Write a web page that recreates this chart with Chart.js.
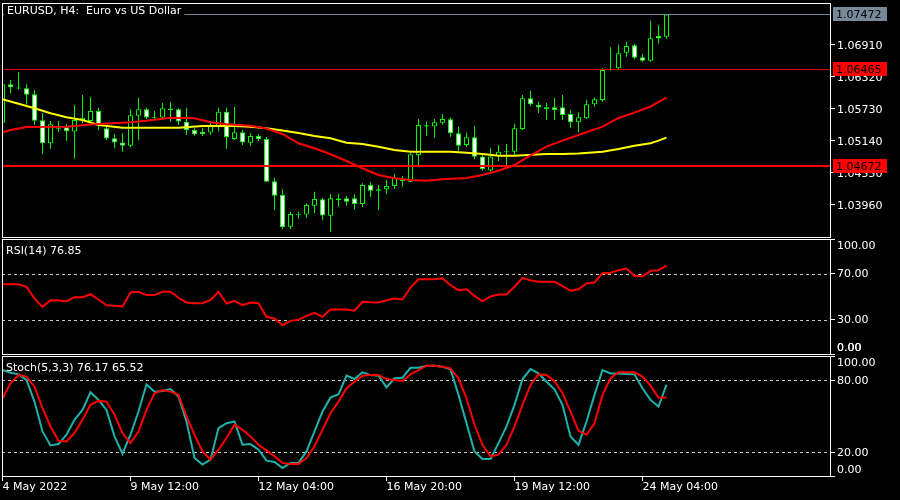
<!DOCTYPE html>
<html>
<head>
<meta charset="utf-8">
<script src="https://cdn.jsdelivr.net/npm/chart.js@4/dist/chart.umd.min.js"></script>
<style>
  html, body { margin: 0; padding: 0; background: #000; }
  #wrap { position: relative; width: 900px; height: 500px; overflow: hidden; }
  #wrap canvas { position: absolute; left: 0; top: 0; }
</style>
</head>
<body>
<div id="wrap">
  <canvas id="priceChart" width="900" height="500"></canvas>
  <canvas id="rsiChart" width="900" height="500"></canvas>
  <canvas id="stochChart" width="900" height="500"></canvas>
</div>
<script>
//DATA - EURUSD H4, bar 0 = 4 May 20:00
const barOpen = [1.05477,1.06185,1.06108,1.06112,1.06001,1.05522,1.05098,1.05367,1.05393,1.05315,
  1.05527,1.05509,1.05693,1.05374,1.05190,1.05112,1.05053,1.05606,1.05724,1.05559,
  1.05573,1.05712,1.05724,1.05496,1.05343,1.05311,1.05297,1.05398,1.05680,1.05177,
  1.05300,1.05109,1.05232,1.05177,1.04397,1.04144,1.03560,1.03776,1.03785,1.03947,
  1.04065,1.03763,1.04052,1.04084,1.04084,1.03978,1.04329,1.04224,1.04249,1.04310,
  1.04421,1.04390,1.04882,1.05407,1.05407,1.05477,1.05540,1.05282,1.05066,1.05208,
  1.04854,1.04596,1.04863,1.04937,1.04943,1.05361,1.05927,1.05804,1.05761,1.05761,
  1.05761,1.05638,1.05485,1.05559,1.05817,1.05896,1.06458,1.06480,1.06768,1.06904,
  1.06683,1.06621,1.07076,1.07063];
const barHigh = [1.06209,1.06265,1.06412,1.06182,1.06080,1.05651,1.05509,1.05509,1.05448,1.05804,
  1.05988,1.05951,1.05754,1.05435,1.05269,1.05282,1.05724,1.05933,1.05754,1.05693,
  1.05841,1.05859,1.05743,1.05748,1.05374,1.05374,1.05509,1.05754,1.05754,1.05767,
  1.05343,1.05282,1.05269,1.05219,1.04458,1.04249,1.03836,1.03836,1.03988,1.04205,
  1.04089,1.04163,1.04163,1.04126,1.04158,1.04360,1.04379,1.04329,1.04421,1.04532,
  1.04495,1.04913,1.05546,1.05496,1.05546,1.05638,1.05573,1.05404,1.05288,1.05417,
  1.04900,1.05005,1.05066,1.05085,1.05453,1.05988,1.06067,1.05865,1.05841,1.05927,
  1.05988,1.05712,1.05669,1.05896,1.05946,1.06480,1.06868,1.06910,1.06971,1.06928,
  1.06744,1.07353,1.07279,1.07476];
const barLow = [1.05472,1.06019,1.06093,1.05813,1.05435,1.04900,1.04998,1.05311,1.05146,1.04817,
  1.05466,1.05466,1.05343,1.05158,1.05011,1.04943,1.05024,1.05158,1.05540,1.05527,
  1.05527,1.05496,1.05435,1.05251,1.05241,1.05232,1.05251,1.05324,1.04998,1.05158,
  1.05066,1.05048,1.05140,1.04384,1.03868,1.03512,1.03518,1.03711,1.03726,1.03813,
  1.03683,1.03468,1.03929,1.03947,1.03877,1.03923,1.04113,1.03868,1.04163,1.04255,
  1.04297,1.04384,1.04679,1.05232,1.05201,1.05444,1.05219,1.04961,1.05029,1.04803,
  1.04592,1.04574,1.04771,1.04633,1.04882,1.05343,1.05785,1.05656,1.05527,1.05527,
  1.05527,1.05385,1.05300,1.05546,1.05772,1.05865,1.06436,1.06449,1.06694,1.06652,
  1.06602,1.06602,1.06941,1.07026];
const barClose = [1.06185,1.06130,1.06126,1.05994,1.05514,1.05098,1.05448,1.05385,1.05319,1.05527,
  1.05570,1.05693,1.05444,1.05186,1.05112,1.05053,1.05614,1.05724,1.05573,1.05577,
  1.05743,1.05739,1.05500,1.05343,1.05260,1.05264,1.05417,1.05680,1.05208,1.05300,
  1.05112,1.05232,1.05171,1.04390,1.04131,1.03554,1.03794,1.03789,1.03960,1.04071,
  1.03766,1.04084,1.04080,1.04021,1.03978,1.04329,1.04224,1.04249,1.04310,1.04463,
  1.04403,1.04895,1.05435,1.05429,1.05485,1.05546,1.05282,1.05053,1.05208,1.04851,
  1.04618,1.04854,1.04943,1.04950,1.05374,1.05927,1.05817,1.05758,1.05724,1.05712,
  1.05619,1.05485,1.05577,1.05817,1.05909,1.06449,1.06468,1.06757,1.06892,1.06676,
  1.06621,1.07034,1.07030,1.07472];

// moving averages, read at these bars
const maFastBars = [0,1,3,8,11,16,18,21,24,26,28,31,33,35,37,39,41,43,45,47,49,51,53,55,58,60,62,64,66,68,70,72,75,77,79,81,83];
const maFastVals = [1.05297,1.05343,1.05398,1.05404,1.05444,1.05485,1.05514,1.05570,1.05559,1.05485,1.05448,1.05422,1.05370,1.05269,1.05098,1.05005,1.04895,1.04771,1.04637,1.04513,1.04453,1.04421,1.04408,1.04434,1.04458,1.04513,1.04592,1.04697,1.04873,1.05035,1.05146,1.05251,1.05404,1.05564,1.05662,1.05776,1.05938];
const maSlowBars = [0,4,6,8,10,12,15,18,22,25,29,31,33,35,37,39,41,43,45,47,49,51,56,58,60,62,64,68,70,72,75,77,79,81,82,83];
const maSlowVals = [1.05909,1.05743,1.05651,1.05577,1.05527,1.05435,1.05385,1.05385,1.05385,1.05417,1.05417,1.05404,1.05374,1.05334,1.05288,1.05232,1.05190,1.05109,1.05085,1.05035,1.04974,1.04943,1.04943,1.04924,1.04900,1.04869,1.04869,1.04900,1.04900,1.04910,1.04943,1.04993,1.05053,1.05098,1.05146,1.05201];

const rsiValues = [60.7,60.7,60.7,58.4,48.3,41.0,46.8,46.5,45.9,49.4,
  49.4,52.0,47.4,42.4,41.9,41.3,53.5,54.1,51.2,51.2,
  54.1,54.1,48.9,44.8,44.2,44.2,47.1,54.1,43.9,46.2,
  42.4,44.8,44.2,32.3,30.9,25.0,28.8,29.7,33.2,35.8,
  32.3,38.7,38.7,38.7,37.6,45.4,45.0,44.8,46.8,48.3,
  47.4,57.8,65.0,65.0,65.0,65.9,59.8,55.5,56.3,50.5,
  45.9,50.0,51.7,51.7,58.5,66.2,64.0,62.8,62.8,62.8,
  59.0,55.0,56.3,61.3,62.2,70.3,70.6,72.9,74.3,68.0,
  67.4,72.3,72.9,76.85];

const stochMain = [88.3,86.0,84.7,80.0,62.0,37.1,25.5,26.6,34.4,46.8,
  55.1,69.8,63.4,55.1,33.0,18.6,34.4,53.7,76.4,70.3,
  70.9,72.5,66.2,45.4,15.0,9.5,13.6,39.9,44.0,45.4,
  26.0,26.6,21.9,12.8,11.7,6.7,10.9,10.9,20.5,37.1,
  53.7,65.3,68.1,83.6,80.8,86.4,84.1,83.6,73.9,81.4,
  81.9,90.2,90.2,91.9,91.9,91.0,89.0,67.6,44.0,20.5,
  14.2,14.2,27.4,41.3,59.3,80.8,89.1,85.5,78.6,72.3,
  59.3,33.0,26.0,45.4,67.6,88.3,85.5,85.5,85.0,84.7,
  73.1,63.4,57.9,76.17];
const stochSignal = [64.8,77.2,84.1,82.8,74.4,56.5,41.3,29.4,28.8,35.8,
  46.8,59.3,62.6,62.0,51.0,35.8,27.4,37.1,55.1,69.0,
  71.7,70.3,67.6,49.6,34.4,20.5,13.6,21.9,31.6,42.7,
  38.5,33.0,26.0,21.3,16.4,10.9,10.0,10.0,15.0,24.7,
  38.5,52.3,62.0,73.1,78.6,83.6,84.1,84.1,80.8,80.0,
  79.2,84.7,88.3,91.9,91.9,91.0,89.7,81.4,64.8,42.7,
  26.0,16.4,17.8,26.0,41.3,59.3,75.9,84.7,84.1,79.2,
  69.0,53.7,37.7,34.4,44.0,67.6,81.4,86.4,86.4,86.4,
  82.8,75.3,65.3,65.52];

const priceTicks = [1.03960, 1.04550, 1.05140, 1.05730, 1.06320, 1.06910];
const rsiTicks = [0, 30, 70, 100];
const stochTicks = [0, 20, 80, 100];
const timeTickBars = [0, 16, 32, 48, 64, 80];
const timeTickLabels = ["4 May 2022", "9 May 12:00", "12 May 04:00", "16 May 20:00", "19 May 12:00", "24 May 04:00"];
const bidPrice = 1.07472;
const priceLevels = [1.06465, 1.04672];

//STYLE
const GREEN = "#00ff00";
const AXIS_W = 70;
const levelStyles = [{ color: "#e00000", width: 1 }, { color: "#ff0000", width: 2 }];

Chart.defaults.font.family = "'DejaVu Sans', sans-serif";
Chart.defaults.font.size = 11;
Chart.defaults.color = "#ffffff";

let rsiChart = null; // the stochastic panel also writes the RSI bottom label

// x axis shared by all panels
function timeAxis(show) {
  return {
    type: "linear",
    min: -0.0625,
    max: 103.4375,
    offset: false,
    display: show,
    afterBuildTicks: (s) => { s.ticks = timeTickBars.map((v) => ({ value: v })); },
    afterFit: (s) => {
      s.height = show ? 24 : 0;
      s.paddingLeft = 0;
      s.paddingRight = 0;
    },
    grid: { drawOnChartArea: false, drawTicks: true, tickLength: 5, color: "#fff", offset: false },
    border: { display: false },
    ticks: {
      autoSkip: false, maxRotation: 0, minRotation: 0, align: "start", padding: 0, color: "#fff",
      callback: (v) => timeTickLabels[timeTickBars.indexOf(v)],
    },
  };
}

// y axis on the right
function valueAxis(min, max, tickVals, fmt) {
  return {
    position: "right",
    min: min,
    max: max,
    afterBuildTicks: (s) => { s.ticks = tickVals.map((v) => ({ value: v })); },
    afterFit: (s) => { s.width = AXIS_W; s.paddingTop = 0; s.paddingBottom = 0; },
    grid: { drawOnChartArea: false, drawTicks: true, tickLength: 5, color: "#fff" },
    border: { display: false },
    ticks: { autoSkip: false, padding: 2, labelOffset: 1, color: "#fff", callback: fmt },
  };
}

// 0 and 100 are drawn by the frame plugin, pushed inside the panel
function pctLabel(v) {
  if (v === 100 || v === 0) return "";
  return v.toFixed(2);
}

//frame, caption, dashed levels and edge labels
const framePlugin = {
  id: "frame",
  beforeDatasetsDraw(chart, args, opts) {
    const { ctx, chartArea: a, scales } = chart;
    ctx.save();
    ctx.strokeStyle = "#c8c8c8";
    ctx.lineWidth = 1;
    ctx.setLineDash([3, 3]);
    (opts.levels || []).forEach((v) => {
      const py = Math.round(scales.y.getPixelForValue(v)) + 0.5;
      ctx.beginPath();
      ctx.moveTo(a.left, py);
      ctx.lineTo(a.right, py);
      ctx.stroke();
    });
    ctx.restore();
  },
  afterDraw(chart, args, opts) {
    const { ctx, chartArea: a, scales: { y } } = chart;
    ctx.save();
    ctx.strokeStyle = "#fff";
    ctx.lineWidth = 1;
    ctx.strokeRect(a.left + 0.5, a.top + 0.5, a.right - a.left, a.bottom - a.top);
    ctx.font = "11px 'DejaVu Sans'";
    ctx.textBaseline = "middle";
    if (opts.captionBg) {
      const w = ctx.measureText(opts.caption).width;
      ctx.fillStyle = "#000";
      ctx.fillRect(a.left + 2, a.top + 1, w + 6, 14);
    }
    ctx.fillStyle = "#fff";
    ctx.fillText(opts.caption, a.left + opts.captionDx, a.top + opts.captionDy);
    if (opts.edgeLabels) {
      ctx.fillText("100.00", y.left + 7, y.getPixelForValue(100) + 7.5);
      ctx.fillText("0.00", y.left + 7, y.getPixelForValue(0) - 6);
    }
    // bottom label of the RSI panel, written on the top-most canvas
    if (opts.rsiBottom && rsiChart) {
      const ry = rsiChart.scales.y;
      ctx.fillText("0.00", ry.left + 7, ry.getPixelForValue(0) - 6);
    }
    ctx.restore();
  },
};

//bid line, horizontal levels and their price tags
const priceLinesPlugin = {
  id: "priceLines",
  afterDatasetsDraw(chart) {
    const { ctx, chartArea: a, scales: { y } } = chart;
    ctx.save();
    let py = Math.round(y.getPixelForValue(bidPrice)) + 0.5;
    ctx.strokeStyle = "#778899";
    ctx.lineWidth = 1;
    ctx.beginPath(); ctx.moveTo(a.left, py); ctx.lineTo(a.right, py); ctx.stroke();
    priceLevels.forEach((v, i) => {
      const st = levelStyles[i];
      py = Math.round(y.getPixelForValue(v)) + (st.width === 1 ? 0.5 : 0);
      ctx.strokeStyle = st.color;
      ctx.lineWidth = st.width;
      ctx.beginPath(); ctx.moveTo(a.left, py); ctx.lineTo(a.right, py); ctx.stroke();
    });
    ctx.restore();
  },
  afterDraw(chart) {
    const { ctx, scales: { y } } = chart;
    const tag = (v, bg, fg) => {
      const py = Math.round(y.getPixelForValue(v));
      ctx.fillStyle = bg;
      ctx.fillRect(y.left + 3, py - 7, 54, 14);
      ctx.fillStyle = fg;
      ctx.fillText(v.toFixed(5), y.left + 6, py + 1);
    };
    ctx.save();
    ctx.font = "11px 'DejaVu Sans'";
    ctx.textBaseline = "middle";
    tag(bidPrice, "#778899", "#000");
    priceLevels.forEach((v) => tag(v, "#ff0000", "#000"));
    ctx.restore();
  },
};

const baseOptions = {
  responsive: false,
  animation: false,
  events: [],
};

//PRICE CHART
new Chart(document.getElementById("priceChart"), {
  type: "bar",
  data: {
    datasets: [
      {
        type: "line", label: "MA fast", order: 0,
        data: maFastBars.map((b, i) => ({ x: b, y: maFastVals[i] })),
        borderColor: "#ff0000", borderWidth: 2, pointRadius: 0, tension: 0,
      },
      {
        type: "line", label: "MA slow", order: 0,
        data: maSlowBars.map((b, i) => ({ x: b, y: maSlowVals[i] })),
        borderColor: "#ffff00", borderWidth: 2, pointRadius: 0, tension: 0,
      },
      {
        label: "bodies", order: 1, grouped: false,
        data: barOpen.map((o, i) => ({ x: i, y: [o, barClose[i]] })),
        backgroundColor: barOpen.map((o, i) => (barClose[i] >= o ? "#000" : "#fff")),
        borderColor: GREEN, borderWidth: 1, borderSkipped: false,
        barThickness: 5, inflateAmount: 0,
      },
      {
        label: "wicks", order: 2, grouped: false,
        data: barLow.map((l, i) => ({ x: i, y: [l, barHigh[i]] })),
        backgroundColor: GREEN, borderWidth: 0,
        barThickness: 1, inflateAmount: 0,
      },
    ],
  },
  options: {
    ...baseOptions,
    layout: { padding: { left: 2, right: 0, top: 3, bottom: 263 } },
    scales: {
      x: timeAxis(false),
      y: valueAxis(1.03370, 1.07684, priceTicks, (v) => v.toFixed(5)),
    },
    plugins: {
      legend: { display: false },
      tooltip: { enabled: false },
      frame: { caption: "EURUSD, H4:  Euro vs US Dollar", captionBg: true, captionDx: 5, captionDy: 8.5 },
    },
  },
  plugins: [priceLinesPlugin, framePlugin],
});

//RSI CHART
rsiChart = new Chart(document.getElementById("rsiChart"), {
  type: "line",
  data: {
    datasets: [{
      label: "RSI(14)",
      data: rsiValues.map((v, i) => ({ x: i, y: v })),
      borderColor: "#ff0000", borderWidth: 2, pointRadius: 0, tension: 0,
    }],
  },
  options: {
    ...baseOptions,
    layout: { padding: { left: 2, right: 0, top: 239, bottom: 146 } },
    scales: {
      x: timeAxis(false),
      y: valueAxis(0, 100, rsiTicks, pctLabel),
    },
    plugins: {
      legend: { display: false },
      tooltip: { enabled: false },
      frame: { caption: "RSI(14) 76.85", levels: [30, 70], captionDx: 4, captionDy: 12, edgeLabels: true },
    },
  },
  plugins: [framePlugin],
});

//STOCHASTIC CHART
new Chart(document.getElementById("stochChart"), {
  type: "line",
  data: {
    datasets: [
      {
        label: "Signal",
        data: stochSignal.map((v, i) => ({ x: i, y: v })),
        borderColor: "#ff0000", borderWidth: 2, pointRadius: 0, tension: 0,
      },
      {
        label: "Main",
        data: stochMain.map((v, i) => ({ x: i, y: v })),
        borderColor: "#20b2aa", borderWidth: 2, pointRadius: 0, tension: 0,
      },
    ],
  },
  options: {
    ...baseOptions,
    layout: { padding: { left: 2, right: 0, top: 356, bottom: 0 } },
    scales: {
      x: timeAxis(true),
      y: valueAxis(0, 100, stochTicks, pctLabel),
    },
    plugins: {
      legend: { display: false },
      tooltip: { enabled: false },
      frame: { caption: "Stoch(5,3,3) 76.17 65.52", levels: [20, 80], captionDx: 4, captionDy: 11.7, edgeLabels: true, rsiBottom: true },
    },
  },
  plugins: [framePlugin],
});
</script>
</body>
</html>
